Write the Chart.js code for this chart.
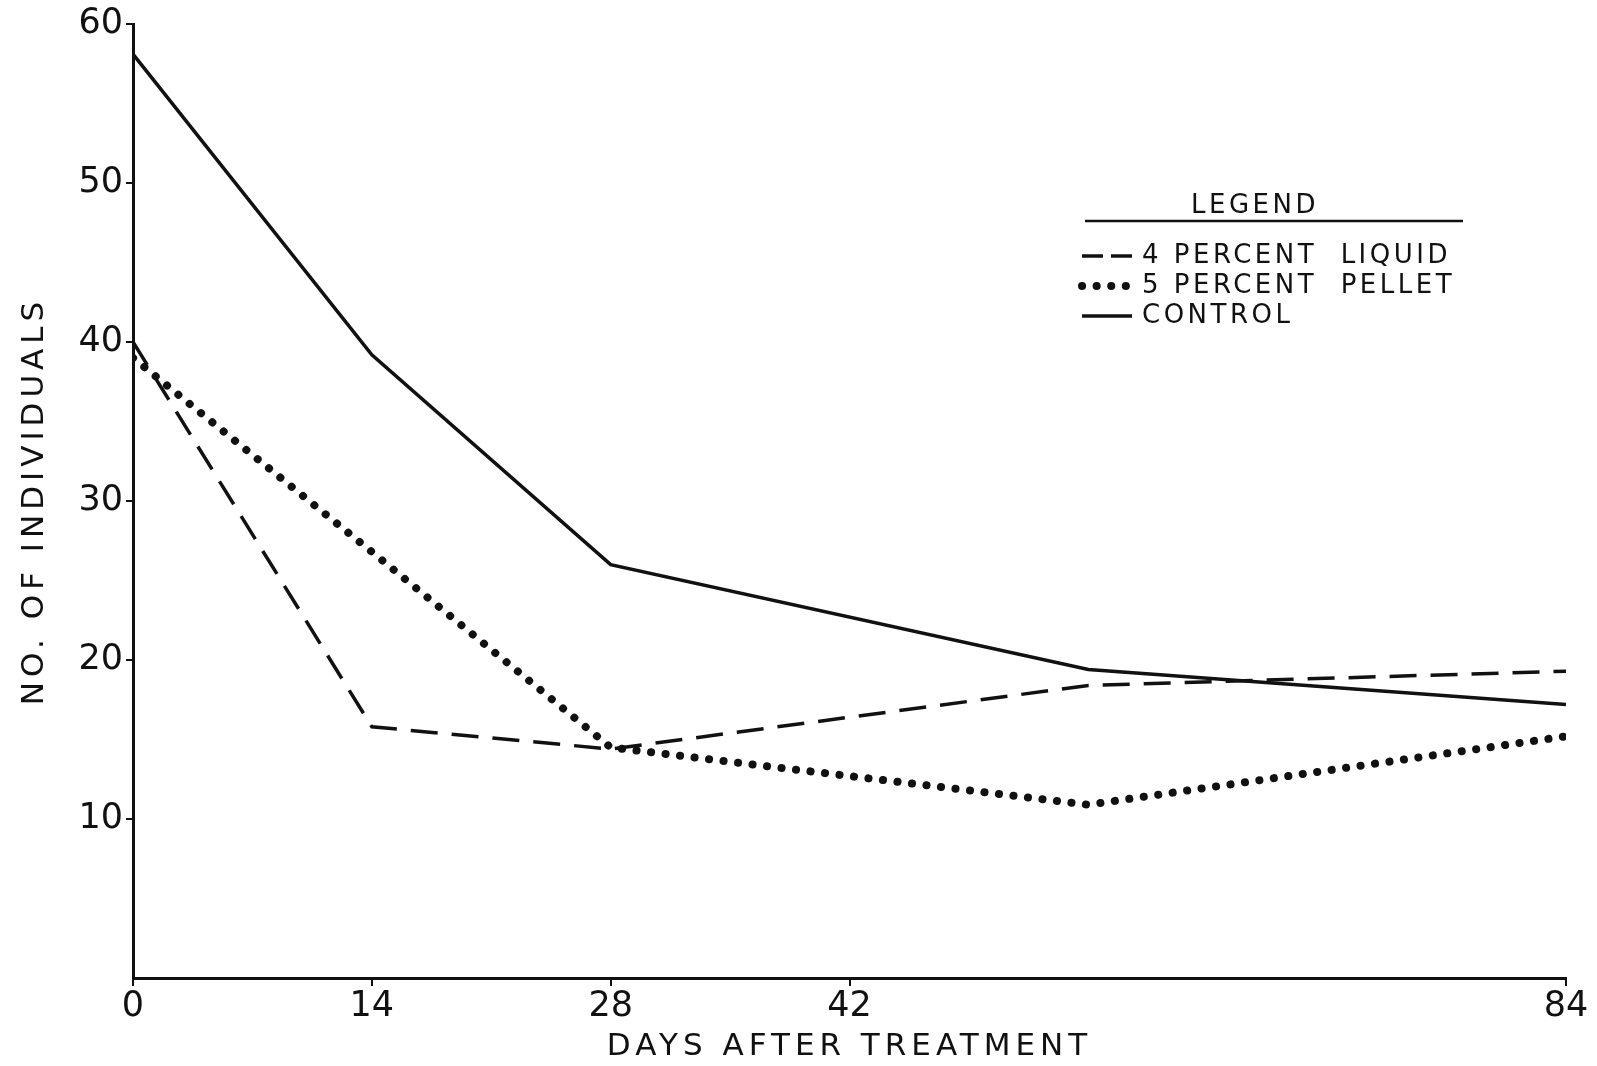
<!DOCTYPE html>
<html>
<head>
<meta charset="utf-8">
<script src="https://cdn.jsdelivr.net/npm/chart.js@4"></script>
<style>
  html, body { margin: 0; padding: 0; background: #fff; }
  #wrap { width: 1597px; height: 1066px; }
</style>
</head>
<body>
<div id="wrap"><canvas id="myChart" width="1597" height="1066"></canvas></div>
<script>
const days = [0, 14, 28, 56, 84];
const xTicks = [0, 14, 28, 42, 84];
const yTicks = [10, 20, 30, 40, 50, 60];

const liquid = [40, 15.8, 14.4, 18.4, 19.3];
const pellet = [39, 26.8, 14.5, 10.9, 15.2];
const control = [58.1, 39.2, 26, 19.4, 17.2];

const seriesNames = ['4 PERCENT  LIQUID', '5 PERCENT  PELLET', 'CONTROL'];

const FONT = '"DejaVu Sans", sans-serif';
const INK = '#111';

const toPoints = vals => vals.map((v, i) => ({ x: days[i], y: v }));

// spread out the axis titles only, like the old lettering
const titleSpacing = {
    id: 'titleSpacing',
    afterLayout(chart) {
        Object.values(chart.scales).forEach(s => {
            if (s._spaced) return;
            const orig = s.drawTitle;
            s.drawTitle = function (...args) {
                this.ctx.letterSpacing = '5px';
                orig.apply(this, args);
                this.ctx.letterSpacing = '0px';
            };
            s._spaced = true;
        });
    }
};

// legend samples are short, so the dash pattern is tightened a bit
const sampleDash = [[21, 8], [0.1, 14.5], []];

const legendBox = {
    id: 'legendBox',
    afterDraw(chart) {
        const c = chart.ctx;
        c.save();
        c.letterSpacing = '3.5px';
        c.fillStyle = INK;
        c.strokeStyle = INK;
        c.font = '26px ' + FONT;
        c.textBaseline = 'middle';
        c.textAlign = 'center';
        c.fillText('LEGEND', 1255, 206);
        c.lineWidth = 2.5;
        c.beginPath();
        c.moveTo(1085, 221);
        c.lineTo(1463, 221);
        c.stroke();
        c.textAlign = 'left';
        chart.data.datasets.forEach((ds, i) => {
            const y = 256 + i * 30;
            c.lineWidth = ds.borderWidth;
            c.lineCap = ds.borderCapStyle || 'butt';
            c.setLineDash(sampleDash[i]);
            c.beginPath();
            c.moveTo(1082, y);
            c.lineTo(1132, y);
            c.stroke();
            c.setLineDash([]);
            c.fillText(ds.label, 1142, y);
        });
        c.restore();
    }
};

const data = {
    datasets: [
        {
            label: seriesNames[0],
            data: toPoints(liquid),
            borderColor: INK,
            borderWidth: 3.5,
            borderDash: [27, 14],
        },
        {
            label: seriesNames[1],
            data: toPoints(pellet),
            borderColor: INK,
            borderWidth: 8,
            borderDash: [0.1, 14.5],
            borderCapStyle: 'round',
        },
        {
            label: seriesNames[2],
            data: toPoints(control),
            borderColor: INK,
            borderWidth: 3.5,
        }
    ]
};

const config = {
    type: 'line',
    data: data,
    options: {
        responsive: false,
        animation: false,
        layout: { padding: { top: 18, right: 31, left: 0, bottom: 0 } },
        elements: { point: { radius: 0 }, line: { tension: 0 } },
        plugins: { legend: { display: false }, tooltip: { enabled: false } },
        scales: {
            x: {
                type: 'linear',
                min: 0,
                max: 84,
                afterBuildTicks: s => { s.ticks = xTicks.map(v => ({ value: v })); },
                afterFit: s => { s.height = 88; },
                grid: { drawOnChartArea: false, tickLength: 8, color: INK, lineWidth: 2 },
                border: { display: true, color: INK, width: 3 },
                ticks: { color: INK, font: { family: FONT, size: 35 }, padding: 0, maxRotation: 0 },
                title: { display: true, text: 'DAYS AFTER TREATMENT', color: INK, font: { family: FONT, size: 31 }, padding: { top: 0, bottom: 0 } }
            },
            y: {
                min: 0,
                max: 60,
                afterBuildTicks: s => { s.ticks = yTicks.map(v => ({ value: v })); },
                afterFit: s => { s.width = 133; },
                grid: { drawOnChartArea: false, tickLength: 7, color: INK, lineWidth: 2 },
                border: { display: true, color: INK, width: 3 },
                ticks: { color: INK, font: { family: FONT, size: 35 }, padding: 3 },
                title: { display: true, text: 'NO. OF INDIVIDUALS', color: INK, font: { family: FONT, size: 31 }, padding: { top: 16, bottom: 0 } }
            }
        }
    },
    plugins: [titleSpacing, legendBox]
};

const myChart = new Chart(document.getElementById('myChart'), config);
</script>
</body>
</html>
